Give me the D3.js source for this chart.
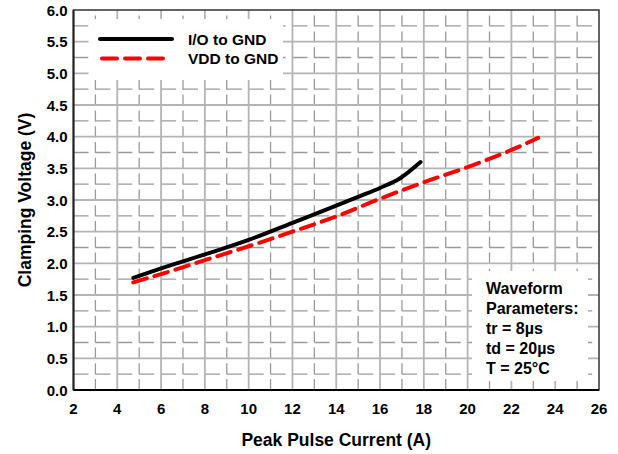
<!DOCTYPE html>
<html>
<head>
<meta charset="utf-8">
<script src="https://cdn.jsdelivr.net/npm/d3@7"></script>
<style>
  body { margin: 0; background: #fff; }
  text { font-family: "Liberation Sans", Arial, sans-serif; font-weight: bold; fill: #000; }
</style>
</head>
<body>
<div id="chart"></div>
<script>
// Data
const ioCurrent = [4.73, 6, 8, 10, 12, 14, 15, 16, 16.9, 17.85];
const ioVoltage = [1.77, 1.92, 2.14, 2.37, 2.64, 2.91, 3.05, 3.19, 3.34, 3.60];
const vddCurrent = [4.73, 6, 8, 10, 12, 14, 16, 18, 20, 22, 23.22];
const vddVoltage = [1.70, 1.83, 2.05, 2.27, 2.5, 2.74, 3.02, 3.28, 3.52, 3.79, 3.98];
const xTicks = [2, 4, 6, 8, 10, 12, 14, 16, 18, 20, 22, 24, 26];
const yTicks = [0, 0.5, 1, 1.5, 2, 2.5, 3, 3.5, 4, 4.5, 5, 5.5, 6];
const seriesNames = ["I/O to GND", "VDD to GND"];
const noteLines = ["Waveform", "Parameters:", "tr = 8\u00b5s", "td = 20\u00b5s", "T = 25\u00b0C"];

// Dimensions
const W = 618, H = 454;
const margin = { top: 10, right: 19, bottom: 64, left: 73.5 };
const width = W - margin.left - margin.right;
const height = H - margin.top - margin.bottom;

const svg = d3.select("#chart").append("svg")
    .attr("width", W)
    .attr("height", H);

const g = svg.append("g")
    .attr("transform", `translate(${margin.left},${margin.top})`);

const x = d3.scaleLinear().domain([2, 26]).range([0, width]);
const y = d3.scaleLinear().domain([0, 6]).range([height, 0]);

// Grid: solid at major ticks, dashed at minor ones
const minorX = d3.range(3, 26, 2);
const minorY = d3.range(0.25, 6, 0.5);

g.selectAll(".vminor").data(minorX).enter().append("line")
    .attr("x1", d => x(d)).attr("x2", d => x(d))
    .attr("y1", height).attr("y2", 0)
    .attr("stroke", "#9a9a9a").attr("stroke-width", 1.3)
    .attr("stroke-dasharray", "11,4.8");

g.selectAll(".hminor").data(minorY).enter().append("line")
    .attr("x1", 0).attr("x2", width)
    .attr("y1", d => y(d)).attr("y2", d => y(d))
    .attr("stroke", "#9a9a9a").attr("stroke-width", 1.3)
    .attr("stroke-dasharray", "15,6.9");

g.selectAll(".vmajor").data(xTicks.slice(1, -1)).enter().append("line")
    .attr("x1", d => x(d)).attr("x2", d => x(d))
    .attr("y1", height).attr("y2", 0)
    .attr("stroke", "#b4b4b4").attr("stroke-width", 1.8);

g.selectAll(".hmajor").data(yTicks.slice(1, -1)).enter().append("line")
    .attr("x1", 0).attr("x2", width)
    .attr("y1", d => y(d)).attr("y2", d => y(d))
    .attr("stroke", "#b4b4b4").attr("stroke-width", 1.8);

// White boxes behind legend and note (inset from the frame)
g.append("rect")
    .attr("x", 15).attr("y", 9)
    .attr("width", 209.5 - 15).attr("height", 61)
    .attr("fill", "#fff");

g.append("rect")
    .attr("x", 398.5).attr("y", 261)
    .attr("width", 116).attr("height", 110)
    .attr("fill", "#fff");

// Series
const line = d3.line().x(d => x(d[0])).y(d => y(d[1])).curve(d3.curveMonotoneX);

g.append("path")
    .datum(ioCurrent.map((c, i) => [c, ioVoltage[i]]))
    .attr("d", line)
    .attr("fill", "none")
    .attr("stroke", "#000")
    .attr("stroke-width", 4)
    .attr("stroke-linecap", "round")
    .attr("stroke-linejoin", "round");

g.append("path")
    .datum(vddCurrent.map((c, i) => [c, vddVoltage[i]]))
    .attr("d", line)
    .attr("fill", "none")
    .attr("stroke", "#ff0000")
    .attr("stroke-width", 4)
    .attr("stroke-linecap", "round")
    .attr("stroke-dasharray", "14,8");

// Frame
g.append("rect")
    .attr("width", width).attr("height", height)
    .attr("fill", "none")
    .attr("stroke", "#333")
    .attr("stroke-width", 1.5);
g.append("line")
    .attr("x1", 0).attr("x2", width)
    .attr("y1", height).attr("y2", height)
    .attr("stroke", "#000").attr("stroke-width", 2);
g.append("line")
    .attr("x1", 0).attr("x2", 0)
    .attr("y1", 0).attr("y2", height)
    .attr("stroke", "#222").attr("stroke-width", 2);

// Axes labels
g.selectAll(".xlab").data(xTicks).enter().append("text")
    .attr("x", d => x(d))
    .attr("y", height + 23.5)
    .attr("text-anchor", "middle")
    .attr("font-size", 15)
    .text(d => d);

g.selectAll(".ylab").data(yTicks).enter().append("text")
    .attr("x", -6)
    .attr("y", d => y(d) + 5.5)
    .attr("text-anchor", "end")
    .attr("font-size", 15)
    .text(d => d.toFixed(1));

svg.append("text")
    .attr("x", margin.left + width / 2)
    .attr("y", 446)
    .attr("text-anchor", "middle")
    .attr("font-size", 17.5)
    .text("Peak Pulse Current (A)");

svg.append("text")
    .attr("transform", `translate(31,${margin.top + height / 2}) rotate(-90)`)
    .attr("text-anchor", "middle")
    .attr("font-size", 17.5)
    .text("Clamping Voltage (V)");

// Legend
const legend = svg.append("g");
legend.append("line")
    .attr("x1", 100).attr("x2", 172).attr("y1", 39).attr("y2", 39)
    .attr("stroke", "#000").attr("stroke-width", 4).attr("stroke-linecap", "round");
legend.append("line")
    .attr("x1", 102).attr("x2", 163).attr("y1", 58.5).attr("y2", 58.5)
    .attr("stroke", "#ff0000").attr("stroke-width", 4).attr("stroke-linecap", "round")
    .attr("stroke-dasharray", "15,8");
legend.selectAll(".ltext").data(seriesNames).enter().append("text")
    .attr("x", 188)
    .attr("y", (d, i) => 44.5 + i * 19.5)
    .attr("font-size", 15.5)
    .text(d => d);

// Waveform note
svg.selectAll(".note").data(noteLines).enter().append("text")
    .attr("x", 486)
    .attr("y", (d, i) => 293.5 + i * 20)
    .attr("font-size", 16)
    .text(d => d);
</script>
</body>
</html>
